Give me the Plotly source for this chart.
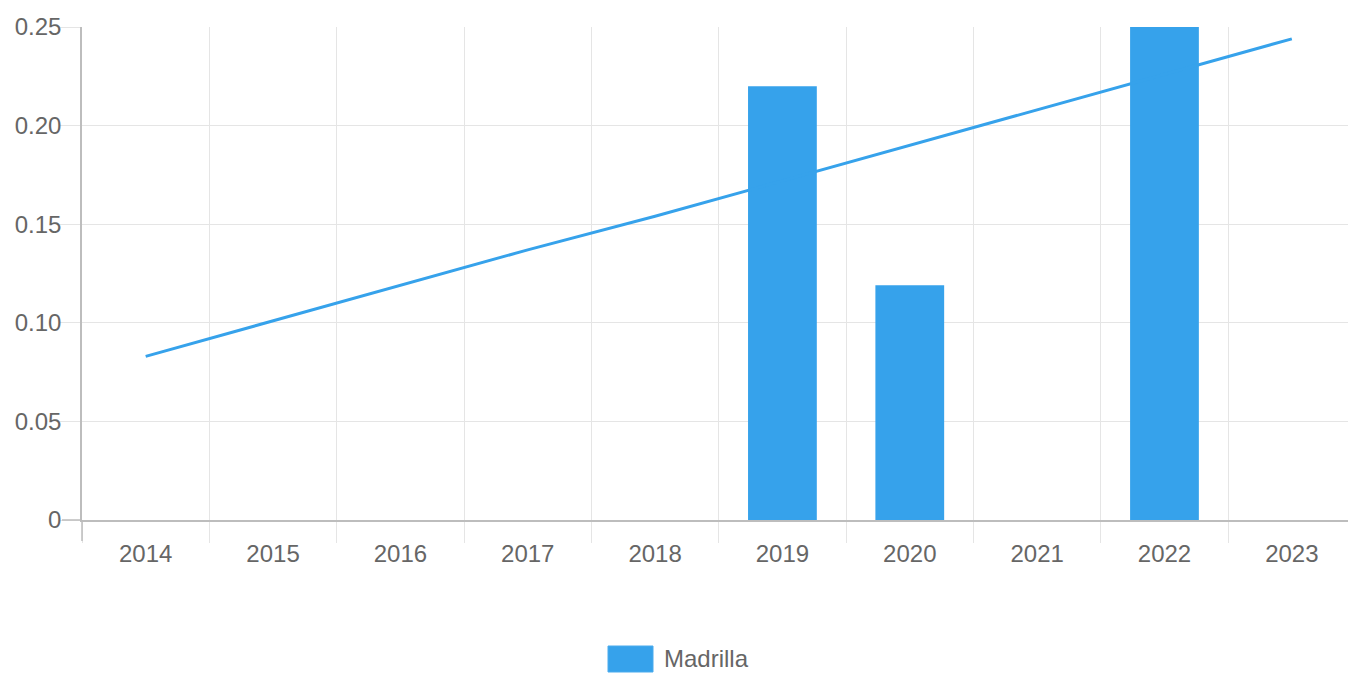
import plotly.graph_objects as go

years = ["2014", "2015", "2016", "2017", "2018", "2019", "2020", "2021", "2022", "2023"]
bar_values = [0, 0, 0, 0, 0, 0.220, 0.119, 0, 0.262, 0]
trend_values = [0.083, 0.101, 0.119, 0.137, 0.154, 0.172, 0.190, 0.208, 0.226, 0.244]
series_name = "Madrilla"
y_ticks = [0, 0.05, 0.10, 0.15, 0.20, 0.25]
y_tick_labels = ["0", "0.05", "0.10", "0.15", "0.20", "0.25"]

BLUE = "#36A2EB"
GRID = "#e5e5e5"
AXIS = "#bdbdbd"
TEXT = "#666666"
FONT = "Liberation Sans, Arial, sans-serif"
FS = 24

W, H = 1348, 673
L, R, T, B = 82, 0, 27, 153
pw, ph = W - L - R, H - T - B
cat_w = 127.35

def px_x(x):
    return (x - L) / pw

def px_y(y):
    return (H - B - y) / ph

fig = go.Figure()
fig.add_trace(go.Scatter(
    x=years, y=trend_values, mode="lines",
    line=dict(color=BLUE, width=3), showlegend=False, hoverinfo="skip",
))
fig.add_trace(go.Bar(
    x=years, y=bar_values, name=series_name,
    marker=dict(color=BLUE, line=dict(width=0)),
    width=0.54, showlegend=False,
))

x_hi = pw / cat_w - 0.5

fig.update_layout(
    width=W, height=H,
    margin=dict(l=L, r=R, t=T, b=B, pad=0),
    plot_bgcolor="white", paper_bgcolor="white",
    font=dict(family=FONT, size=FS, color=TEXT),
    xaxis=dict(
        type="category", range=[-0.5, x_hi],
        tickson="boundaries", ticks="outside", ticklen=21, tickcolor=GRID, tickwidth=1,
        showgrid=True, gridcolor=GRID, gridwidth=1,
        showline=True, linecolor=AXIS, linewidth=1.5,
        tickfont=dict(family=FONT, size=FS, color=TEXT),
        ticklabelstandoff=11,
        zeroline=False,
    ),
    yaxis=dict(
        range=[0, 0.25], tickvals=y_ticks, ticktext=y_tick_labels,
        ticks="outside", ticklen=20, tickcolor=GRID, tickwidth=1,
        showgrid=True, gridcolor=GRID, gridwidth=1,
        showline=True, linecolor=AXIS, linewidth=1.5,
        zeroline=False,
        ticklabelstandoff=-6,
        tickfont=dict(family=FONT, size=FS, color=TEXT),
    ),
    bargap=0.46,
)

# darker axis-line extensions (x tick at left boundary, y tick at zero)
fig.add_shape(type="line", xref="paper", yref="paper",
              x0=0, x1=0, y0=0, y1=px_y(541), line=dict(color=AXIS, width=1.5))
fig.add_shape(type="line", xref="paper", yref="paper",
              x0=px_x(62), x1=0, y0=0, y1=0, line=dict(color=AXIS, width=1.5))

# legend
fig.add_shape(type="rect", xref="paper", yref="paper",
              x0=px_x(608), x1=px_x(653), y0=px_y(646), y1=px_y(672),
              fillcolor=BLUE, line=dict(color="#4aabed", width=1))
fig.add_annotation(xref="paper", yref="paper", x=px_x(662), y=px_y(658),
                   text=series_name, showarrow=False, xanchor="left", yanchor="middle",
                   font=dict(family=FONT, size=FS, color=TEXT))

fig.write_html("out.html", config={"displayModeBar": False},
               post_script="document.body.style.margin='0';document.body.style.overflow='hidden';")
